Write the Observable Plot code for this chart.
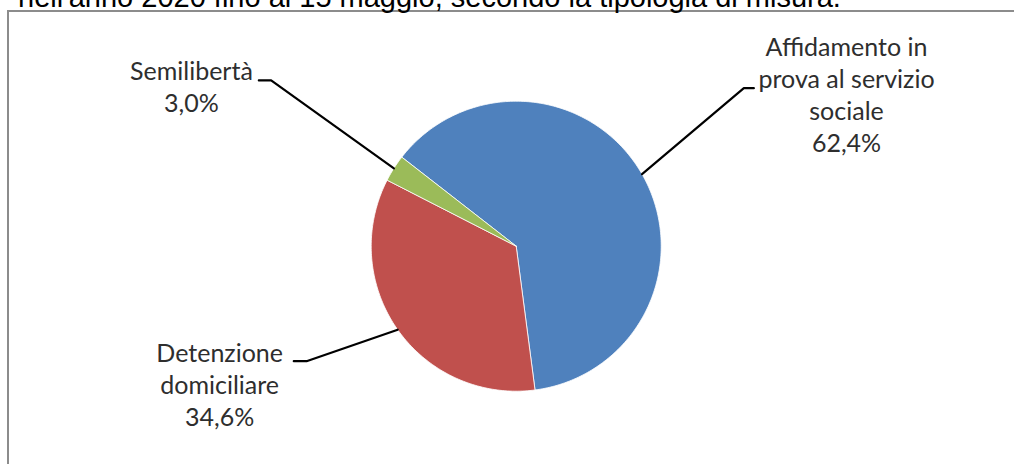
<!DOCTYPE html>
<html>
<head>
<meta charset="utf-8">
<script src="https://cdn.jsdelivr.net/npm/d3@7"></script>
<script src="https://cdn.jsdelivr.net/npm/@observablehq/plot@0.6"></script>
<style>
  html, body { margin: 0; padding: 0; background: #fff; overflow: hidden; }
  #title {
    font-family: "Liberation Sans", Arial, sans-serif;
    font-size: 29px; line-height: 29px; height: 27px;
    margin-top: -17px; padding-left: 18px; white-space: nowrap; color: #000;
  }
  #chart {
    margin-left: 7px; width: 1007px; height: 454px;
    border-left: 2px solid #8c8c8c; border-top: 2px solid #8c8c8c;
    box-sizing: border-box;
  }
  #chart svg { display: block; }
</style>
</head>
<body>
<div id="title">nell'anno 2020 fino al 15 maggio, secondo la tipologia di misura.</div>
<div id="chart"></div>
<script>
// ---- data ----
const categories = ["Affidamento in prova al servizio sociale", "Detenzione domiciliare", "Semilibertà"];
const labelTexts = ["Affidamento in\nprova al servizio\nsociale", "Detenzione\ndomiciliare", "Semilibertà"];
const shares = [62.4, 34.6, 3.0];
const colors = ["#4F81BD", "#C0504D", "#9BBB59"];
const firstSliceAngle = 307.9; // degrees clockwise from 12 o'clock

// ---- layout (in units of pie radius, centre at 0,0) ----
const labelLayout = [
  {elbow: [1.570, 1.090], stub: [1.639, 1.090], text: [2.278, 0.653]},
  {elbow: [-1.446, -0.793], stub: [-1.534, -0.793], text: [-2.045, -1.243]},
  {elbow: [-1.690, 1.143], stub: [-1.775, 1.143], text: [-2.240, 0.924]}
];

const total = d3.sum(shares);
const rad = d => d * Math.PI / 180;
const slices = [];
let a = firstSliceAngle;
shares.forEach((v, i) => {
  const a0 = a, a1 = a + v / total * 360;
  slices.push({name: categories[i], a0, a1, mid: (a0 + a1) / 2});
  a = a1;
});

const slicePts = [];
slices.forEach(s => {
  slicePts.push({name: s.name, x: 0, y: 0});
  const n = Math.max(2, Math.ceil(s.a1 - s.a0));
  for (let k = 0; k <= n; ++k) {
    const t = rad(s.a0 + (s.a1 - s.a0) * k / n);
    slicePts.push({name: s.name, x: Math.sin(t), y: Math.cos(t)});
  }
  slicePts.push({name: s.name, x: 0, y: 0});
});

const leaderPts = [];
slices.forEach((s, i) => {
  const t = rad(s.mid), L = labelLayout[i];
  leaderPts.push({name: s.name, x: Math.sin(t), y: Math.cos(t)});
  leaderPts.push({name: s.name, x: L.elbow[0], y: L.elbow[1]});
  leaderPts.push({name: s.name, x: L.stub[0], y: L.stub[1]});
});

const fmt = v => v.toFixed(1).replace(".", ",") + "%";
const labels = slices.map((s, i) => ({
  x: labelLayout[i].text[0], y: labelLayout[i].text[1],
  text: labelTexts[i] + "\n" + fmt(shares[i])
}));

const W = 1005, H = 452, R = 145, cx = 506.7, cy = 233.7;
const fontSize = 25;

const chart = Plot.plot({
  width: W, height: H, margin: 0,
  style: {background: "transparent"},
  x: {domain: [-cx / R, (W - cx) / R], axis: null},
  y: {domain: [-(H - cy) / R, cy / R], axis: null},
  color: {domain: categories, range: colors},
  marks: [
    Plot.line(slicePts, {x: "x", y: "y", z: "name", fill: "name", stroke: "white", strokeWidth: 0.8, strokeLinejoin: "round"}),
    Plot.line(leaderPts, {x: "x", y: "y", z: "name", stroke: "black", strokeWidth: 2.2}),
    Plot.text(labels, {x: "x", y: "y", text: "text", lineAnchor: "bottom", textAnchor: "middle",
      fontSize, lineHeight: 32 / fontSize, fill: "#2e2e2e", fontFamily: "Lato"})
  ]
});
document.getElementById("chart").appendChild(chart);
</script>
</body>
</html>
